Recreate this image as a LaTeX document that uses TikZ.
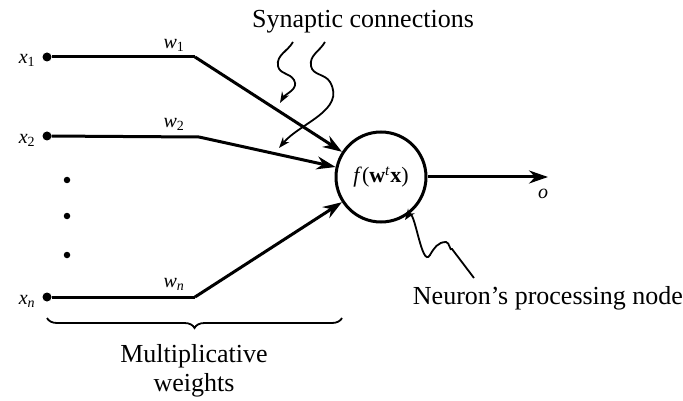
\documentclass[tikz,border=0pt]{standalone}
\usepackage{fontspec}
\setmainfont{Liberation Serif}
\usetikzlibrary{arrows.meta,decorations.pathreplacing}
\newcommand{\myvar}[2]{\textit{#1}\textsubscript{#2}}
\begin{document}
\begin{tikzpicture}[x=1pt,y=-1pt,
  dotnode/.style={circle,fill=black,inner sep=0pt,minimum size=9pt},
  smalldot/.style={circle,fill=black,inner sep=0pt,minimum size=6.5pt},
  wire/.style={line width=3pt},
  mainarrow/.style={wire,-{Stealth[length=19pt,width=13pt]}},
  squig/.style={line width=1.8pt,-{Stealth[length=11pt,width=8pt]}},
  lbl/.style={font=\fontsize{20}{22}\selectfont,inner sep=1pt},
  txt/.style={font=\fontsize{26}{29}\selectfont,align=center,inner sep=0pt}]
\useasboundingbox (0,0) rectangle (683,401);
% inputs
\node[dotnode] (x1) at (47,57) {};
\node[dotnode] (x2) at (47,136) {};
\node[dotnode] (xn) at (47,297) {};
\node[lbl] (lx1) at (27,60) {\myvar{x}{1}};
\node[lbl] (lx2) at (27,140) {\myvar{x}{2}};
\node[lbl] (lxn) at (27,301) {\myvar{x}{\textit{n}}};
\node[smalldot] (d1) at (67,180) {};
\node[smalldot] (d2) at (67,216) {};
\node[smalldot] (d3) at (67,255) {};
% neuron
\node[circle,draw,line width=3pt,minimum size=90pt,inner sep=0pt] (f) at (381,177)
  {\fontsize{22}{24}\selectfont\textit{f}(\textbf{w}\textsuperscript{\textit{t}}\textbf{x})};
% bends
\coordinate (b1) at (195,57);
\coordinate (b2) at (199,137);
\coordinate (bn) at (195,297);
\draw[wire] (x1) -- (b1);
\draw[mainarrow] (b1) -- (f);
\draw[wire] (x2) -- (b2);
\draw[mainarrow] (b2) -- (f);
\draw[wire] (xn) -- (bn);
\draw[mainarrow] (bn) -- (f);
% weights
\node[lbl] (w1) at (174,45) {\myvar{w}{1}};
\node[lbl] (w2) at (174,124) {\myvar{w}{2}};
\node[lbl] (wn) at (174,284) {\myvar{w}{\textit{n}}};
% output
\coordinate (out) at (548,177);
\draw[mainarrow] (f) -- (out);
\node[lbl] (o) at (543,194) {\textit{o}};
% synaptic connections
\node[txt] (syn) at (363,22) {Synaptic connections};
\coordinate (s1a) at (293,42);
\coordinate (s1b) at (278,66);
\coordinate (s1c) at (294,80);
\coordinate (s1d) at (280,103);
\draw[squig] (s1a) to[out=240,in=100] (s1b) to[out=-80,in=120] (s1c) to[out=-60,in=60] (s1d);
\coordinate (s2a) at (325,42);
\coordinate (s2b) at (311,66);
\coordinate (s2c) at (330,82);
\coordinate (s2d) at (279,148);
\draw[squig] (s2a) to[out=240,in=100] (s2b) to[out=-80,in=120] (s2c) to[out=-60,in=50] (s2d);
% neuron label
\node[txt] (nlab) at (548,298) {Neuron's processing node};
\coordinate (n1) at (474,278);
\coordinate (n2) at (446,242);
\coordinate (n3) at (430,255);
\coordinate (n4) at (405,220);
\draw[squig] (n1) -- (452,249) to[out=-125,in=0] (n2) to[out=180,in=60] (n3) to[out=-120,in=55] (n4);
% brace
\coordinate (br1) at (47,318);
\coordinate (br2) at (342,318);
\draw[line width=1.8pt,decorate,decoration={brace,mirror,amplitude=10pt}] (br1) -- (br2);
\node[txt] (mw) at (194,371) {Multiplicative\\weights};
\end{tikzpicture}
\end{document}
